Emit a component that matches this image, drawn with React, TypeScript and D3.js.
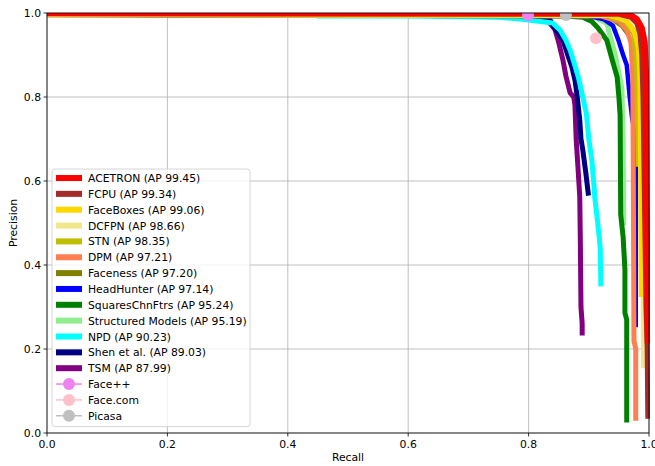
import React from "react";
import * as d3 from "d3";

// legend order
const names = [
  "ACETRON (AP 99.45)",
  "FCPU (AP 99.34)",
  "FaceBoxes (AP 99.06)",
  "DCFPN (AP 98.66)",
  "STN (AP 98.35)",
  "DPM (AP 97.21)",
  "Faceness (AP 97.20)",
  "HeadHunter (AP 97.14)",
  "SquaresChnFtrs (AP 95.24)",
  "Structured Models (AP 95.19)",
  "NPD (AP 90.23)",
  "Shen et al. (AP 89.03)",
  "TSM (AP 87.99)",
];
const colors = [
  "#ff0000", "#a52a2a", "#ffd700", "#f0e68c", "#bfbf00", "#ff7f50", "#808000",
  "#0000ff", "#008000", "#90ee90", "#00ffff", "#000080", "#800080",
];

// [recall, precision]
const acetron = [[0, 1], [0.95, 1], [0.97, 0.995], [0.98, 0.985], [0.988, 0.965], [0.993, 0.93], [0.995, 0.85], [0.996, 0.6], [0.997, 0.4], [0.998, 0.22]];
const fcpu = [[0, 0.998], [0.95, 0.997], [0.97, 0.99], [0.98, 0.975], [0.985, 0.95], [0.988, 0.9], [0.99, 0.8], [0.993, 0.5], [0.995, 0.3], [0.997, 0.2], [0.998, 0.04]];
const faceboxes = [[0, 0.997], [0.93, 0.995], [0.96, 0.985], [0.975, 0.96], [0.982, 0.92], [0.985, 0.85], [0.986, 0.6], [0.987, 0.33]];
const dcfpn = [[0, 0.997], [0.94, 0.994], [0.965, 0.98], [0.978, 0.95], [0.985, 0.9], [0.988, 0.6], [0.99, 0.4], [0.991, 0.16]];
const stn = [[0, 0.997], [0.93, 0.994], [0.96, 0.98], [0.975, 0.95], [0.98, 0.85], [0.982, 0.64]];
const dpm = [[0, 0.996], [0.92, 0.993], [0.95, 0.98], [0.963, 0.96], [0.97, 0.93], [0.973, 0.85], [0.974, 0.6], [0.975, 0.22], [0.978, 0.2], [0.978, 0.035]];
const faceness = [[0, 0.996], [0.92, 0.994], [0.94, 0.985], [0.955, 0.97], [0.963, 0.955]];
const headhunter = [[0, 0.996], [0.9, 0.993], [0.925, 0.985], [0.94, 0.97], [0.949, 0.936], [0.957, 0.9], [0.963, 0.876], [0.968, 0.8], [0.972, 0.75], [0.978, 0.7], [0.978, 0.257]];
const squares = [[0, 0.997], [0.86, 0.993], [0.89, 0.99], [0.905, 0.98], [0.915, 0.965], [0.93, 0.935], [0.939, 0.888], [0.947, 0.848], [0.95, 0.8], [0.952, 0.757], [0.953, 0.52], [0.957, 0.467], [0.96, 0.39], [0.96, 0.286], [0.963, 0.27], [0.963, 0.031]];
const structured = [[0, 0.997], [0.88, 0.994], [0.91, 0.99], [0.93, 0.975], [0.944, 0.9], [0.955, 0.82], [0.957, 0.7], [0.958, 0.5]];
const npd = [[0.452, 0.993], [0.6, 0.993], [0.75, 0.99], [0.79, 0.985], [0.82, 0.98], [0.84, 0.976], [0.852, 0.96], [0.862, 0.935], [0.869, 0.912], [0.877, 0.875], [0.883, 0.845], [0.89, 0.8], [0.896, 0.76], [0.9, 0.7], [0.905, 0.65], [0.908, 0.6], [0.91, 0.56], [0.914, 0.51], [0.917, 0.47], [0.919, 0.44], [0.92, 0.355]];
const shen = [[0.7, 0.995], [0.8, 0.99], [0.82, 0.988], [0.836, 0.983], [0.845, 0.96], [0.857, 0.936], [0.865, 0.9], [0.872, 0.871], [0.877, 0.84], [0.88, 0.81], [0.885, 0.745], [0.887, 0.7], [0.89, 0.674], [0.895, 0.62], [0.899, 0.571]];
const tsm = [[0.7, 0.995], [0.8, 0.99], [0.83, 0.985], [0.844, 0.96], [0.85, 0.93], [0.857, 0.888], [0.862, 0.85], [0.869, 0.81], [0.875, 0.8], [0.877, 0.78], [0.879, 0.7], [0.882, 0.633], [0.885, 0.562], [0.886, 0.45], [0.887, 0.3], [0.889, 0.26], [0.889, 0.238]];
const curves = [acetron, fcpu, faceboxes, dcfpn, stn, dpm, faceness, headhunter, squares, structured, npd, shen, tsm];

// single-point commercial systems
const pointNames = ["Face++", "Face.com", "Picasa"];
const pointColors = ["#ee82ee", "#ffc0cb", "#c0c0c0"];
const pointRecall = [0.799, 0.912, 0.862];
const pointPrecision = [0.995, 0.94, 0.995];

const ticks = [0, 0.2, 0.4, 0.6, 0.8, 1.0];

export default function App() {
  const W = 655, H = 466;
  const left = 47, right = 649, top = 13, bottom = 433;
  const x = d3.scaleLinear().domain([0, 1]).range([left, right]);
  const y = d3.scaleLinear().domain([0, 1]).range([bottom, top]);
  const line = d3.line<number[]>().x(d => x(d[0])).y(d => y(d[1]));
  const font = "DejaVu Sans, sans-serif";
  const fs = 10.8;

  const legX = 52, legY = 169, legW = 198, rowH = 15.85;
  const allNames = names.concat(pointNames);

  // draw in reverse so ACETRON ends up on top
  const order = d3.range(curves.length).reverse();
  const widthOf = (i: number) => (i === 0 ? 6 : i === 7 ? 4.5 : 5);

  return (
    <svg width={W} height={H} style={{ position: "fixed", left: 0, top: 0, background: "#fff" }} fontFamily={font}>
      <defs>
        <clipPath id="plot">
          <rect x={left} y={top} width={right - left + 1} height={bottom - top} />
        </clipPath>
      </defs>
      {/* grid */}
      {ticks.map(t => (
        <g key={"g" + t}>
          <line x1={x(t)} x2={x(t)} y1={top} y2={bottom} stroke="#b0b0b0" strokeWidth={0.8} />
          <line x1={left} x2={right} y1={y(t)} y2={y(t)} stroke="#b0b0b0" strokeWidth={0.8} />
        </g>
      ))}
      <g clipPath="url(#plot)">
        {order.map(i => (
          <path key={i} d={line(curves[i] as number[][]) || ""} fill="none" stroke={colors[i]}
            strokeWidth={widthOf(i)} strokeLinejoin="round" strokeLinecap="square" />
        ))}
        {pointNames.map((n, i) => (
          <circle key={n} cx={x(pointRecall[i])} cy={y(pointPrecision[i])} r={6} fill={pointColors[i]} />
        ))}
      </g>
      {/* spines */}
      <rect x={left} y={top} width={right - left} height={bottom - top} fill="none" stroke="#000" strokeWidth={0.8} />
      {/* ticks */}
      {ticks.map(t => (
        <g key={"t" + t} fontSize={fs} fill="#000">
          <line x1={x(t)} x2={x(t)} y1={bottom} y2={bottom + 3.5} stroke="#000" strokeWidth={0.8} />
          <text x={x(t)} y={bottom + 15} textAnchor="middle">{t.toFixed(1)}</text>
          <line x1={left - 3.5} x2={left} y1={y(t)} y2={y(t)} stroke="#000" strokeWidth={0.8} />
          <text x={left - 6} y={y(t) + 4} textAnchor="end">{t.toFixed(1)}</text>
        </g>
      ))}
      <text x={(left + right) / 2} y={461} textAnchor="middle" fontSize={fs}>Recall</text>
      <text transform={`translate(17,${(top + bottom) / 2}) rotate(-90)`} textAnchor="middle" fontSize={fs}>Precision</text>
      {/* legend */}
      <rect x={legX} y={legY} width={legW} height={rowH * allNames.length + 4} rx={3}
        fill="#fff" fillOpacity={0.8} stroke="#cccccc" strokeWidth={0.8} />
      {allNames.map((n, i) => {
        const cy = legY + 9 + i * rowH;
        const isPt = i >= names.length;
        const c = isPt ? pointColors[i - names.length] : colors[i];
        return (
          <g key={n}>
            {isPt ? (
              <g>
                <line x1={56} x2={82} y1={cy} y2={cy} stroke={c} strokeWidth={1.5} />
                <circle cx={69} cy={cy} r={6} fill={c} />
              </g>
            ) : (
              <line x1={56} x2={82} y1={cy} y2={cy} stroke={c} strokeWidth={6} />
            )}
            <text x={88} y={cy + 4} fontSize={fs} fill="#000">{n}</text>
          </g>
        );
      })}
    </svg>
  );
}
